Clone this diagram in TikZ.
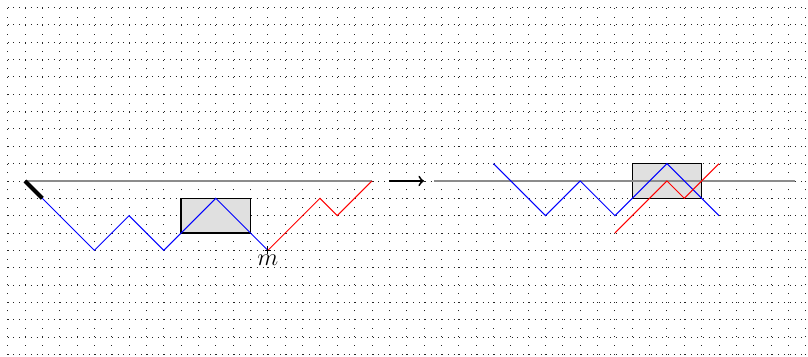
\documentclass[tikz,border=0pt]{standalone}
\usetikzlibrary{calc}
\begin{document}
\begin{tikzpicture}[x=0.3cm,y=0.3cm,
  hdots/.style={black!85, line width=0.45pt, dash pattern=on 0.45pt off 2.4pt},
  vdots/.style={black!85, line width=0.45pt, dash pattern=on 0.45pt off 3.8pt},
  axisline/.style={black!45, line width=1pt},
  bluepath/.style={blue, line width=0.5pt},
  redpath/.style={red, line width=0.5pt},
  startseg/.style={black, line width=2pt},
  boxstyle/.style={draw=black, fill=black!12, line width=0.7pt},
  bigarrow/.style={->, black, line width=0.9pt}]
\useasboundingbox (-1.44,-10.14) rectangle (45.13,10.43);
% grid
\foreach \y in {-10,...,10} \draw[hdots] (-1,\y) -- (45,\y);
\foreach \x in {-1,...,45} \draw[vdots] (\x,-10) -- (\x,10);
% left picture
\draw[boxstyle] (9,-1) rectangle (13,-3);
\coordinate (a0) at (0,0);
\coordinate (a20) at (20,0);
\draw[axisline] (a0) -- (a20);
\coordinate (p0) at (0,0);
\coordinate (p1) at (1,-1);
\coordinate (p2) at (4,-4);
\coordinate (p3) at (6,-2);
\coordinate (p4) at (8,-4);
\coordinate (p5) at (11,-1);
\coordinate (m) at (14,-4);
\coordinate (r1) at (17,-1);
\coordinate (r2) at (18,-2);
\coordinate (r3) at (20,0);
\draw[startseg] (p0) -- (p1);
\draw[bluepath] (p1) -- (p2) -- (p3) -- (p4) -- (p5) -- (m);
\draw[redpath] (m) -- (r1) -- (r2) -- (r3);
\draw[line width=0.5pt] ($(m)+(-1.6pt,0)$) -- ($(m)+(1.6pt,0)$);
\draw[line width=0.5pt] ($(m)+(0,-2pt)$) -- ($(m)+(0,2pt)$);
\node[below=-1.5pt, font=\fontsize{13}{15}\selectfont] (mlabel) at (m) {$m$};
% arrow
\coordinate (arrS) at (21,0);
\coordinate (arrE) at (23,0);
\draw[bigarrow] (arrS) -- (arrE);
% right picture
\draw[boxstyle] (35,1) rectangle (39,-1);
\coordinate (b0) at (23.6,0);
\coordinate (b1) at (44.4,0);
\draw[axisline] (b0) -- (b1);
\coordinate (q1) at (27,1);
\coordinate (q2) at (30,-2);
\coordinate (q3) at (32,0);
\coordinate (q4) at (34,-2);
\coordinate (q5) at (37,1);
\coordinate (q6) at (40,-2);
\coordinate (s0) at (34,-3);
\coordinate (s1) at (37,0);
\coordinate (s2) at (38,-1);
\coordinate (s3) at (40,1);
\draw[bluepath] (q1) -- (q2) -- (q3) -- (q4) -- (q5) -- (q6);
\draw[redpath] (s0) -- (s1) -- (s2) -- (s3);
\end{tikzpicture}
\end{document}
